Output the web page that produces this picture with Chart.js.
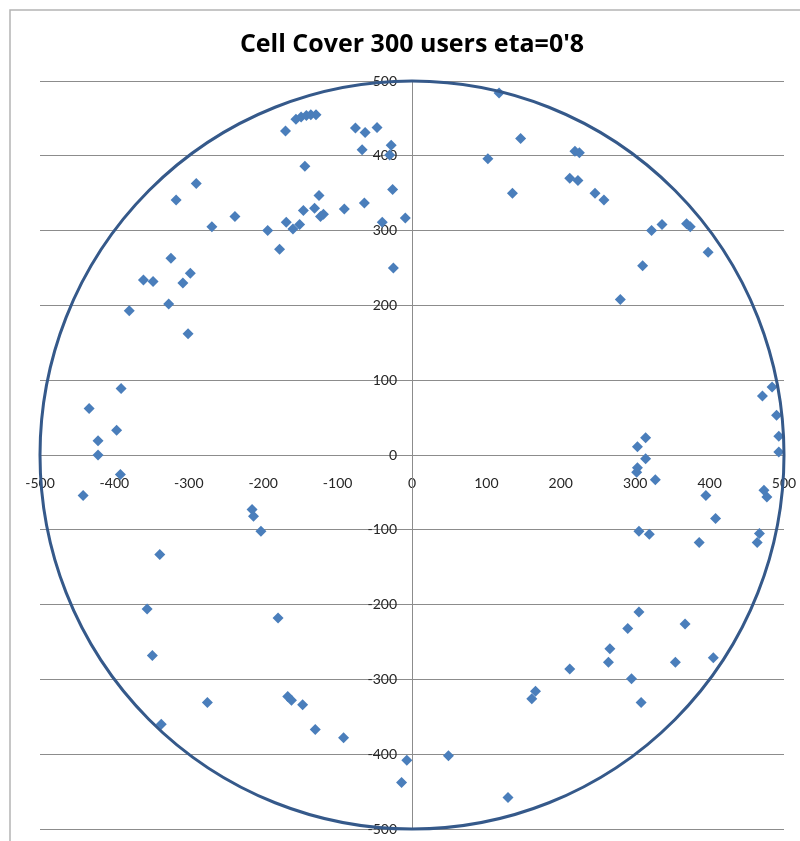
<!DOCTYPE html>
<html>
<head>
<meta charset="utf-8">
<script src="https://cdn.jsdelivr.net/npm/chart.js@4"></script>
<style>
    html, body { margin: 0; padding: 0; background: #ffffff; }
    #wrap { width: 800px; height: 841px; }
</style>
</head>
<body>
<div id="wrap"><canvas id="grafico-cobertura"></canvas></div>
<script>
//Dados do gráfico
const titulo = "Cell Cover 300 users eta=0'8";

// posições dos usuários (x, y)
const userX = [
    -170, -156, -149, -142, -136, -129, -76, -63, -47, -67, -28, -30, -144, -290, -317, -125,
    -26, -64, -91, -146, -131, -123, -119, -169, -160, -151, -194, -238, -269, -40, -9, -178,
    -324, -361, -348, -298, -308, -25, -327, -380, -301,
    117, 146, 102, 135, 219, 225, 212, 223, 246, 258, 322, 336, 369, 374, 398, 310, 280,
    -391, -434, -397, -422, -422, -392, -442, -215, -213, -203, -339,
    484, 471, 490, 493, 493, 314, 303, 314, 303, 302, 327, 395, 473, 477, 408, 305, 319, 386, 467, 464,
    -356, -180, -349, -275, -167, -162, -147, -337, -130, -92, -7, -14,
    305, 290, 367, 266, 264, 354, 405, 212, 295, 308, 166, 161, 49, 129
];
const userY = [
    433, 449, 452, 454, 455, 455, 437, 431, 438, 408, 414, 401, 386, 363, 341, 347,
    355, 337, 329, 327, 330, 319, 322, 311, 302, 308, 300, 319, 305, 311, 317, 275,
    263, 234, 232, 243, 230, 250, 202, 193, 162,
    484, 423, 396, 350, 406, 404, 370, 367, 350, 341, 300, 308, 309, 305, 271, 253, 208,
    89, 62, 33, 19, 0, -26, -54, -73, -82, -102, -133,
    91, 79, 53, 25, 4, 23, 11, -5, -17, -23, -33, -54, -47, -56, -85, -102, -106, -117, -105, -117,
    -206, -218, -268, -331, -323, -328, -334, -360, -367, -378, -408, -438,
    -210, -232, -226, -259, -277, -277, -271, -286, -299, -331, -316, -326, -402, -458
];

const axisMin = -500;
const axisMax = 500;
const axisStep = 100;
const cellRadius = 500;

let pontos = [];
for (var i = 0; i < userX.length; i++) {
    pontos.push({ x: userX[i], y: userY[i] });
}

//Moldura cinza da área do gráfico (canto superior esquerdo)
const moldura = {
    id: 'moldura',
    beforeDraw(chart) {
        const ctx = chart.ctx;
        ctx.save();
        ctx.strokeStyle = '#b4b4b4';
        ctx.lineWidth = 1.5;
        ctx.beginPath();
        ctx.moveTo(10, chart.height);
        ctx.lineTo(10, 10);
        ctx.lineTo(chart.width, 10);
        ctx.stroke();
        ctx.restore();
    }
};

//Círculo da célula, desenhado pelas escalas
const circuloCelula = {
    id: 'circuloCelula',
    afterDatasetsDraw(chart) {
        const ctx = chart.ctx;
        const sx = chart.scales.x;
        const sy = chart.scales.y;
        const cx = sx.getPixelForValue(0);
        const cy = sy.getPixelForValue(0);
        const rx = sx.getPixelForValue(cellRadius) - cx;
        const ry = cy - sy.getPixelForValue(cellRadius);
        ctx.save();
        ctx.beginPath();
        ctx.ellipse(cx, cy, rx, ry, 0, 0, 2 * Math.PI);
        ctx.strokeStyle = '#35598a';
        ctx.lineWidth = 3;
        ctx.stroke();
        ctx.restore();
    }
};

const fonteEixo = { family: 'Lato', size: 14 };

const ctx = document.getElementById('grafico-cobertura');
new Chart(ctx, {
    type: 'scatter',
    data: {
        datasets: [{
            label: 'Users',
            data: pontos,
            pointStyle: 'rectRot',
            pointRadius: 5.5,
            borderWidth: 0,
            backgroundColor: '#4a7ebb',
            borderColor: '#4a7ebb'
        }]
    },
    options: {
        responsive: true,
        maintainAspectRatio: false,
        animation: false,
        layout: {
            padding: { left: 40, right: 16, top: 0, bottom: 12 }
        },
        plugins: {
            legend: { display: false },
            tooltip: { enabled: false },
            title: {
                display: true,
                text: titulo,
                color: '#000000',
                font: { family: 'Open Sans', size: 25, weight: 'bold' },
                padding: { top: 30, bottom: 21 }
            }
        },
        scales: {
            x: {
                type: 'linear',
                position: { y: 0 },
                min: axisMin,
                max: axisMax,
                ticks: {
                    stepSize: axisStep,
                    padding: 0,
                    color: '#262626',
                    font: fonteEixo
                },
                // o espaço até os rótulos vem do tickLength (marcas invisíveis)
                grid: { display: false, drawTicks: true, tickLength: 20 },
                border: { display: true, color: '#8c8c8c', width: 1 }
            },
            y: {
                type: 'linear',
                position: 'center',
                min: axisMin,
                max: axisMax,
                ticks: {
                    stepSize: axisStep,
                    padding: 0,
                    color: '#262626',
                    font: fonteEixo
                },
                grid: {
                    color: '#8c8c8c',
                    lineWidth: 1,
                    drawTicks: true,
                    tickLength: 15,
                    tickColor: 'rgba(0,0,0,0)'
                },
                border: { display: true, color: '#8c8c8c', width: 1 }
            }
        }
    },
    plugins: [moldura, circuloCelula]
});
</script>
</body>
</html>
